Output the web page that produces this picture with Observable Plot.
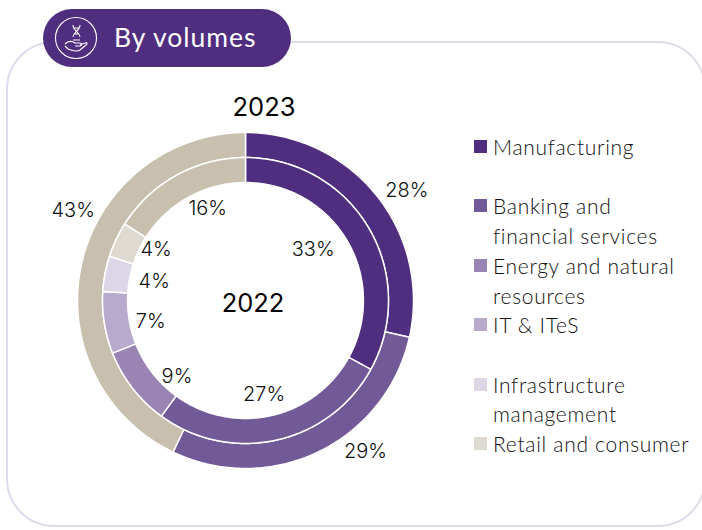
<!DOCTYPE html>
<html>
<head>
<meta charset="utf-8">
<script src="https://cdn.jsdelivr.net/npm/d3@7"></script>
<script src="https://cdn.jsdelivr.net/npm/@observablehq/plot@0.6"></script>
<style>
  html, body { margin: 0; padding: 0; background: #fff; }
  #page { position: relative; width: 702px; height: 530px; overflow: hidden; }
  #frame { position: absolute; left: 5.5px; top: 41px; width: 700px; height: 486px; box-sizing: border-box;
           border: 2px solid #dfdbea; border-radius: 48px; }
  #pill { position: absolute; left: 43px; top: 9px; width: 248px; height: 58px; border-radius: 29px; background: #4f2d7f;
          color: #fff; font: 400 26.5px/58px Lato, sans-serif; letter-spacing: 1px; }
  #pill span { position: absolute; left: 71px; top: -1px; white-space: nowrap; }
  #pill svg { position: absolute; left: 11px; top: 7px; }
  #chart { position: absolute; left: 0; top: 0; }
  #legend { position: absolute; left: 474px; top: 132px; font: 300 21px/29.7px Lato, sans-serif; letter-spacing: .7px; color: #111; }
  .row { position: relative; padding-left: 19px; min-height: 59.4px; white-space: pre; }
  .row i { position: absolute; left: 0; top: 8px; width: 13px; height: 13px; }
</style>
</head>
<body>
<div id="page">
  <div id="frame"></div>
  <div id="chart"></div>
  <div id="pill">
    <svg width="44" height="44" viewBox="0 0 44 44" fill="none" stroke="#fff" stroke-width="1.1">
      <circle cx="22" cy="22" r="20.5"/>
      <path d="M19 9c0 6 7 7 7 12M26 9c0 6-7 7-7 12M20 12h5M20 18h5M19 24h7"/>
      <path d="M11 28c3-3 7-3 10-1h5c2 0 2 3 0 3h-5M26 29l5-2c2-1 3 1 1 2l-6 5c-3 2-6 1-9 0l-3-1-3-3"/>
    </svg>
    <span>By volumes</span>
  </div>
  <div id="legend"></div>
</div>
<script>
const categories = ["Manufacturing", "Banking and\nfinancial services", "Energy and natural\nresources", "IT & ITeS", "Infrastructure\nmanagement", "Retail and consumer", "Others"];
const colors = ["#4f2d7f", "#725998", "#9a84b4", "#b8aacc", "#dcd6e7", "#dfdad1", "#c8bfaf"];
// printed percentages
const labels2022 = ["33%", "27%", "9%", "7%", "4%", "4%", "16%"];
const labels2023 = ["28%", "29%", "", "", "", "", "43%"];
// slice sizes
const values2022 = [33, 27, 9, 7, 4, 4, 16];
const values2023 = [28.5, 28.6, 0, 0, 0, 0, 42.9];
const legendCount = 6;

// ring radii as a share of the outer radius
const innerRing = {year: "2022", values: values2022, texts: labels2022, r0: 0.702, r1: 0.851, labelR: 0.565,
  nudge: [[-14, -3], [-2, 1], [6.5, 18], [-1, 6], [2, -1], [-3.5, -10.5], [8, -9]]};
const outerRing = {year: "2023", values: values2023, texts: labels2023, r0: 0.851, r1: 1, labelR: 1.131,
  nudge: [[13, 9], [37, -20], [0, 0], [0, 0], [0, 0], [0, 0], [13, -48]]};

const polar = (r, pct) => {
  const a = pct / 100 * 2 * Math.PI;
  return {px: r * Math.sin(a), py: -r * Math.cos(a)};
};

const sectors = [];
const labels = [];
for (const ring of [outerRing, innerRing]) {
  let cum = 0;
  ring.values.forEach((v, i) => {
    if (!v) return;
    const key = ring.year + "-" + i, a0 = cum, a1 = cum + v;
    const pts = [];
    const steps = Math.max(2, Math.ceil(v * 4));
    for (let s = 0; s <= steps; s++) pts.push(polar(ring.r1, a0 + v * s / steps));
    for (let s = steps; s >= 0; s--) pts.push(polar(ring.r0, a0 + v * s / steps));
    pts.push(pts[0]);
    for (const p of pts) sectors.push({...p, key, category: categories[i]});
    labels.push({...polar(ring.labelR, (a0 + a1) / 2), text: ring.texts[i], nudge: ring.nudge[i]});
    cum = a1;
  });
}

const labelFont = {fontFamily: "Inter, sans-serif", fontWeight: 300, fontSize: 20, fill: "#111"};
const yearFont = {fontFamily: "Inter, sans-serif", fontWeight: 400, fontSize: 25.5, fill: "#000"};

const plot = Plot.plot({
  width: 702, height: 530,
  margin: 0,
  style: {background: "transparent", overflow: "visible"},
  x: {type: "linear", domain: [-1, 1], range: [245 - 168, 245 + 168], axis: null},
  y: {type: "linear", domain: [-1, 1], range: [300 - 168, 300 + 168], axis: null},
  color: {type: "ordinal", domain: categories, range: colors},
  marks: [
    Plot.line(sectors, {x: "px", y: "py", z: "key", fill: "category", stroke: "#fff", strokeWidth: 1.5, curve: "linear"}),
    ...labels.map(l => Plot.text([l], {x: "px", y: "py", text: "text", dx: l.nudge[0], dy: l.nudge[1], ...labelFont})),
    Plot.text(["2022"], {x: [0], y: [0], dx: 7.5, dy: 3, ...yearFont}),
    Plot.text(["2023"], {x: [0], y: [-1], dx: 18.5, dy: -25, ...yearFont})
  ]
});
document.getElementById("chart").append(plot);

const legend = document.getElementById("legend");
categories.slice(0, legendCount).forEach((c, i) => {
  const row = document.createElement("div");
  row.className = "row";
  const sw = document.createElement("i");
  sw.style.background = colors[i];
  row.append(sw, document.createTextNode(c));
  legend.append(row);
});
</script>
</body>
</html>
